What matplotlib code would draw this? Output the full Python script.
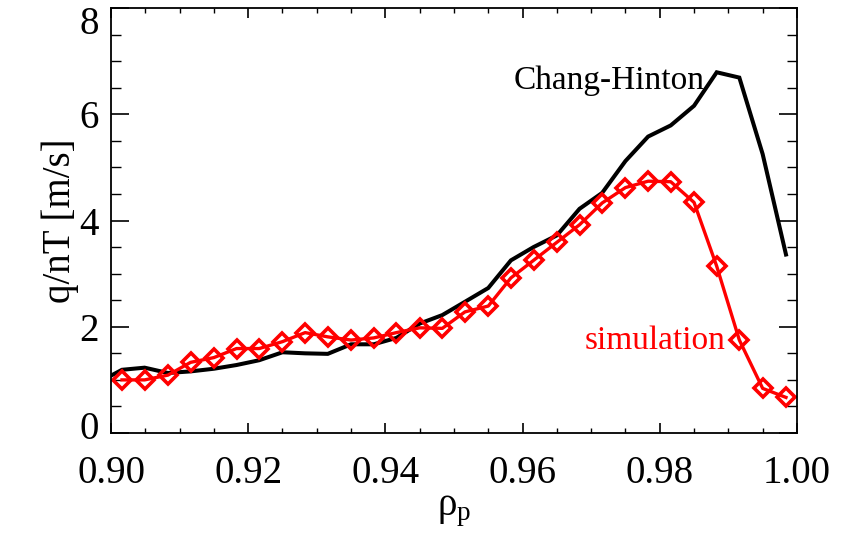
import matplotlib
matplotlib.use("Agg")
import matplotlib.pyplot as plt
from matplotlib.ticker import MultipleLocator, FixedLocator
from matplotlib.transforms import ScaledTranslation

plt.rcParams['font.family'] = ['Liberation Serif', 'DejaVu Serif']
plt.rcParams['mathtext.fontset'] = 'custom'
plt.rcParams['mathtext.rm'] = 'Liberation Serif'
plt.rcParams['mathtext.it'] = 'Liberation Serif:italic'

rho = [0.9016, 0.9049, 0.9083, 0.9116, 0.9150, 0.9183, 0.9216, 0.9250,
       0.9283, 0.9316, 0.9350, 0.9383, 0.9416, 0.9450, 0.9483, 0.9516,
       0.9550, 0.9583, 0.9616, 0.9650, 0.9683, 0.9716, 0.9750, 0.9783,
       0.9816, 0.9850, 0.9883, 0.9916, 0.9950, 0.9984]

sim = [1.00, 1.00, 1.09, 1.33, 1.42, 1.59, 1.59, 1.72, 1.89, 1.81,
       1.75, 1.79, 1.89, 1.98, 1.97, 2.28, 2.39, 2.92, 3.25, 3.59,
       3.92, 4.33, 4.62, 4.74, 4.73, 4.34, 3.14, 1.75, 0.84, 0.67]

rho_ch = [0.9000] + rho
ch = [1.08, 1.19, 1.23, 1.13, 1.16, 1.21, 1.28, 1.37, 1.52, 1.50, 1.49,
      1.67, 1.67, 1.79, 2.06, 2.22, 2.47, 2.73, 3.25, 3.50, 3.72,
      4.22, 4.52, 5.12, 5.58, 5.79, 6.16, 6.79, 6.69, 5.25, 3.36]

yticks = [0, 2, 4, 6, 8]

fig = plt.figure(figsize=(8.5, 5.41), dpi=100)
ax = fig.add_axes([0.1306, 0.1996, 0.807, 0.7856])

ax.plot(rho_ch, ch, color='black', lw=2.9, solid_joinstyle='miter')
ax.plot(rho, sim, color='#ff0000', lw=2.4, marker='D', markersize=9.5,
        markerfacecolor='none', markeredgecolor='#ff0000', markeredgewidth=2.6)

ax.set_xlim(0.90, 1.00)
ax.set_ylim(0, 8)
ax.xaxis.set_major_locator(MultipleLocator(0.02))
ax.xaxis.set_minor_locator(MultipleLocator(0.005))
ax.yaxis.set_major_locator(FixedLocator(yticks))
ax.yaxis.set_minor_locator(MultipleLocator(0.5))
ax.xaxis.set_major_formatter(matplotlib.ticker.FormatStrFormatter('%.2f'))
ax.tick_params(axis='both', which='both', direction='in', top=True, right=True,
               labelsize=28, colors='black')
ax.tick_params(axis='y', which='major', length=13, width=1.2, pad=9)
ax.tick_params(axis='y', which='minor', length=7, width=1.0)
ax.tick_params(axis='x', which='major', length=7, width=1.2, pad=16)
ax.tick_params(axis='x', which='minor', length=3.5, width=1.0)
for s in ax.spines.values():
    s.set_linewidth(1.3)

ax.set_xlabel('ρ$_\\mathrm{p}$', fontsize=28, labelpad=0)
ax.set_ylabel('q/nT [m/s]', fontsize=28, labelpad=0)

ax.text(0.9587, 6.64, 'Chang-Hinton', fontsize=24, color='black', ha='left', va='center')
ax.text(0.9691, 1.74, 'simulation', fontsize=24, color='#ff0000', ha='left', va='center')

fig.canvas.draw()
ylabels = ax.yaxis.get_majorticklabels()
ylabels[0].set_transform(ylabels[0].get_transform() +
                         ScaledTranslation(0, 8 / 100, fig.dpi_scale_trans))
ylabels[-1].set_transform(ylabels[-1].get_transform() +
                          ScaledTranslation(0, -12 / 100, fig.dpi_scale_trans))

fig.savefig('out.png', dpi=100)
